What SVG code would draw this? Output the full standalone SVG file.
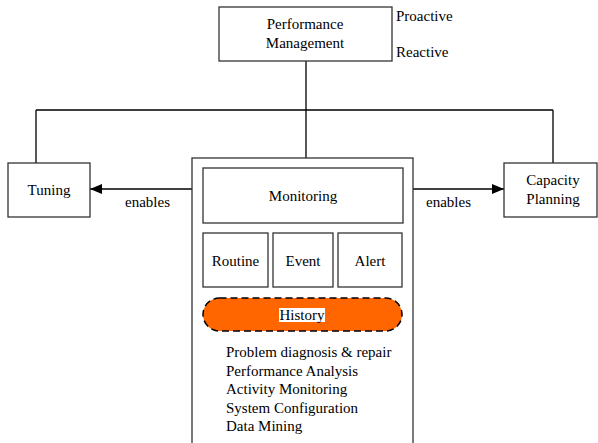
<svg xmlns="http://www.w3.org/2000/svg" width="598" height="443" viewBox="0 0 598 443" font-family="'Liberation Serif', 'Times New Roman', serif" font-size="15">
<defs>
<marker id="arr" markerWidth="12" markerHeight="10" refX="12" refY="5" orient="auto" markerUnits="userSpaceOnUse"><path d="M0,0 L12,5 L0,10 z" fill="#000"/></marker>
<style>
text{font-family:'Liberation Serif','Times New Roman',serif;font-size:15px;fill:#000}
.c{text-anchor:middle}
.box{fill:#fff;stroke:#333;stroke-width:1.3}
.ln{fill:none;stroke:#000;stroke-width:1.3}
</style>
</defs>
<rect width="598" height="443" fill="#fff"/>
<g id="connectors">
<path class="ln" d="M306,61 V158 M36,110 H553 M36,110 V163 M553,110 V163"/>
<line class="ln" x1="192" y1="189" x2="90" y2="189" marker-end="url(#arr)"/>
<line class="ln" x1="413" y1="189" x2="504" y2="189" marker-end="url(#arr)"/>
<text x="125" y="207">enables</text>
<text x="426" y="207">enables</text>
</g>
<g id="perf">
<rect class="box" x="219" y="7" width="173" height="54"/>
<text class="c" x="305" y="29">Performance</text>
<text class="c" x="305" y="48">Management</text>
<text x="396" y="21">Proactive</text>
<text x="396" y="57">Reactive</text>
</g>
<g id="tuning">
<rect class="box" x="8" y="163" width="82" height="54"/>
<text class="c" x="49" y="195">Tuning</text>
</g>
<g id="capacity">
<rect class="box" x="504" y="163" width="93" height="54"/>
<text class="c" x="553" y="185">Capacity</text>
<text class="c" x="553" y="204">Planning</text>
</g>
<g id="outer">
<rect class="box" x="192" y="158" width="221" height="300"/>
</g>
<g id="monitoring">
<rect class="box" x="203" y="168" width="200" height="55"/>
<text class="c" x="303" y="201">Monitoring</text>
</g>
<g id="routine">
<rect class="box" x="203" y="233" width="65" height="54"/>
<text class="c" x="235.5" y="266">Routine</text>
</g>
<g id="event">
<rect class="box" x="273" y="233" width="60" height="54"/>
<text class="c" x="303" y="266">Event</text>
</g>
<g id="alert">
<rect class="box" x="338" y="233" width="64" height="54"/>
<text class="c" x="370" y="266">Alert</text>
</g>
<g id="history">
<rect x="203" y="298" width="199" height="33" rx="16.5" fill="#ff6600" stroke="#000" stroke-width="1.5" stroke-dasharray="7,4"/>
<rect x="279" y="308" width="46" height="14" fill="#fff"/>
<text class="c" x="302" y="320">History</text>
</g>
<g id="list">
<text x="226" y="357">Problem diagnosis &amp; repair</text>
<text x="226" y="376">Performance Analysis</text>
<text x="226" y="394">Activity Monitoring</text>
<text x="226" y="413">System Configuration</text>
<text x="226" y="431">Data Mining</text>
</g>
</svg>
